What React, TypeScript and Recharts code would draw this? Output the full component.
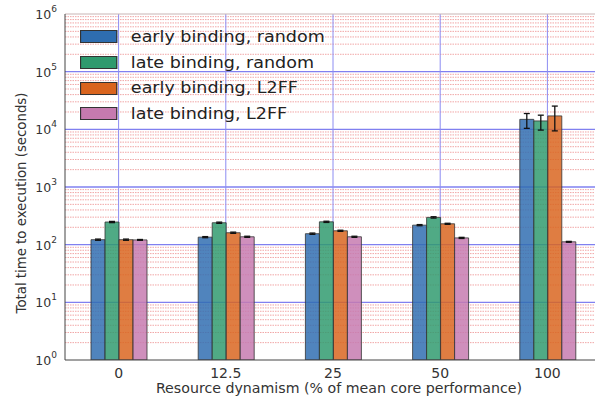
import { BarChart, Bar, XAxis, YAxis, ReferenceLine, ErrorBar, Label } from 'recharts';

const categories = ['0', '12.5', '25', '50', '100'];
const earlyRandom = [122, 135, 155, 218, 14900];
const lateRandom = [247, 240, 249, 297, 14000];
const earlyL2FF = [122, 161, 174, 230, 17100];
const lateL2FF = [121, 137, 137, 131, 112];

// asymmetric errors [below, above]
const earlyRandomErr = [[3, 3], [3, 3], [4, 4], [5, 5], [4500, 3900]];
const lateRandomErr = [[6, 6], [6, 6], [6, 6], [8, 8], [4300, 3600]];
const earlyL2FFErr = [[3, 3], [4, 4], [4, 4], [5, 5], [7700, 8200]];
const lateL2FFErr = [[2, 2], [3, 3], [3, 3], [3, 3], [2, 2]];

const yTicks = [1, 10, 100, 1000, 10000, 100000, 1000000];
const minorMultipliers = [2, 3, 4, 5, 6, 7, 8, 9];

const series = [
  { key: 'earlyRandom', name: 'early binding, random', color: '#2e6db0' },
  { key: 'lateRandom', name: 'late binding, random', color: '#2f9a6e' },
  { key: 'earlyL2FF', name: 'early binding, L2FF', color: '#d9641e' },
  { key: 'lateL2FF', name: 'late binding, L2FF', color: '#c67aaf' },
];

const data = categories.map((c, i) => ({
  cat: c,
  earlyRandom: earlyRandom[i],
  lateRandom: lateRandom[i],
  earlyL2FF: earlyL2FF[i],
  lateL2FF: lateL2FF[i],
  earlyRandomErr: earlyRandomErr[i],
  lateRandomErr: lateRandomErr[i],
  earlyL2FFErr: earlyL2FFErr[i],
  lateL2FFErr: lateL2FFErr[i],
}));

const minorLines = yTicks.slice(0, -1).flatMap((d) => minorMultipliers.map((m) => d * m));
const majorLines = yTicks.slice(1, -1);

const font = 'DejaVu Sans, sans-serif';

const LogTick = (props: any) => {
  const { x, y, payload } = props;
  const exp = Math.round(Math.log10(payload.value));
  return (
    <text x={x} y={y} textAnchor="end" fontSize={12.5} fill="#333" fontFamily={font}>
      <tspan dy={5}>10</tspan>
      <tspan dy={-7} fontSize={9}>{exp}</tspan>
    </text>
  );
};

const YTitle = (props: any) => {
  const vb = props.viewBox || {};
  const cx = 22;
  const cy = vb.y + vb.height / 2 + 16;
  return (
    <text
      x={cx}
      y={cy}
      transform={`rotate(-90, ${cx}, ${cy})`}
      textAnchor="middle"
      dominantBaseline="middle"
      fontSize={13.3}
      fill="#333"
      fontFamily={font}
    >
      Total time to execution (seconds)
    </text>
  );
};

const LegendBox = () => (
  <div
    style={{
      position: 'absolute',
      left: 80,
      top: 24,
      fontFamily: font,
      fontSize: 15.5,
      color: '#222',
      transform: 'scaleX(1.13)',
      transformOrigin: '0 0',
    }}
  >
    {series.map((s) => (
      <div key={s.key} style={{ display: 'flex', alignItems: 'center', height: 25.7 }}>
        <div
          style={{
            width: 31,
            height: 11,
            background: s.color,
            border: '1px solid #333',
            marginRight: 12,
          }}
        />
        <span>{s.name}</span>
      </div>
    ))}
  </div>
);

export default function App() {
  return (
    <div style={{ position: 'absolute', left: 0, top: 0, width: 595, height: 396, background: '#fff', overflow: 'hidden' }}>
      <BarChart
        width={601}
        height={396}
        data={data}
        margin={{ top: 14, right: 0, left: 0, bottom: 0 }}
        barCategoryGap={26}
        barGap={0}
      >
        {minorLines.map((v) => (
          <ReferenceLine
            key={'mn' + v}
            y={v}
            stroke="#ec8a8a"
            strokeOpacity={0.75}
            strokeWidth={1}
            strokeDasharray="1.5 1"
            zIndex={-100}
          />
        ))}
        {majorLines.map((v) => (
          <ReferenceLine key={'mj' + v} y={v} stroke="#8080f0" strokeWidth={1.4} zIndex={-100} />
        ))}
        {categories.map((c) => (
          <ReferenceLine key={'v' + c} x={c} stroke="#8c8cf2" strokeWidth={1} zIndex={-100} />
        ))}
        <ReferenceLine y={1000000} stroke="#c9b4b4" strokeWidth={1} zIndex={-100} />
        <XAxis
          dataKey="cat"
          height={36}
          tickLine={false}
          axisLine={{ stroke: '#444' }}
          tick={{ fontSize: 14, fill: '#333', fontFamily: font }}
          label={{
            value: 'Resource dynamism (% of mean core performance)',
            position: 'center',
            dy: 10,
            dx: 6,
            fontSize: 14.2,
            fill: '#333',
            fontFamily: font,
          }}
        />
        <YAxis
          scale="log"
          domain={[1, 1000000]}
          allowDataOverflow
          ticks={yTicks}
          width={65}
          tickLine={false}
          axisLine={{ stroke: '#444' }}
          tick={<LogTick />}
        >
          <Label content={<YTitle />} />
        </YAxis>
        {series.map((s) => (
          <Bar
            key={s.key}
            dataKey={s.key}
            name={s.name}
            fill={s.color}
            fillOpacity={0.84}
            stroke="#333"
            strokeWidth={0.8}
            isAnimationActive={false}
          >
            <ErrorBar dataKey={s.key + 'Err'} width={3} strokeWidth={1.3} stroke="#111" direction="y" />
          </Bar>
        ))}
      </BarChart>
      <LegendBox />
    </div>
  );
}
